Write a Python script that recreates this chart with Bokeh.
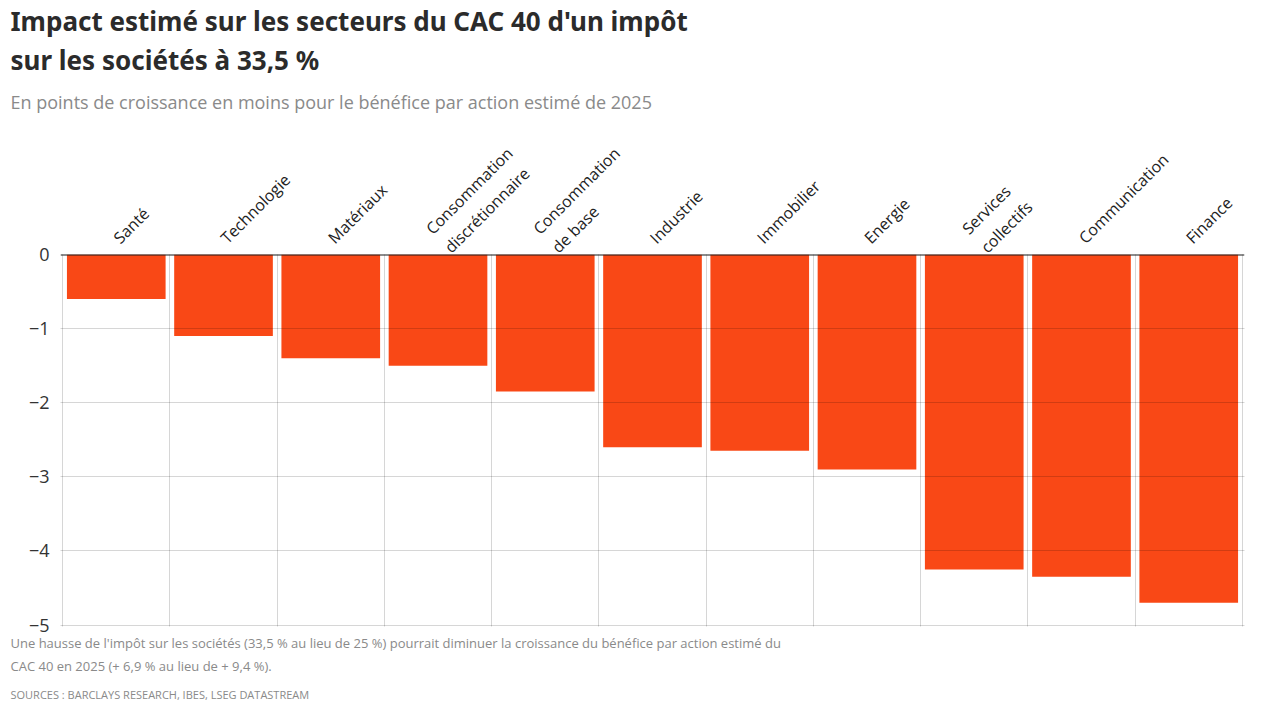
from math import pi

from bokeh.embed import file_html
from bokeh.models import ColumnDataSource, FixedTicker, Range1d, Span, Title
from bokeh.plotting import figure
from bokeh.resources import INLINE

sectors = ["Santé", "Technologie", "Matériaux", "Consommation\ndiscrétionnaire",
           "Consommation\nde base", "Industrie", "Immobilier", "Energie",
           "Services\ncollectifs", "Communication", "Finance"]
impact = [-0.6, -1.1, -1.4, -1.5, -1.85, -2.6, -2.65, -2.9, -4.25, -4.35, -4.7]

y_ticks = [0, -1, -2, -3, -4, -5]
y_labels = ["0", "−1", "−2", "−3", "−4", "−5"]

title_1 = "Impact estimé sur les secteurs du CAC 40 d'un impôt"
title_2 = "sur les sociétés à 33,5 %"
subtitle = "En points de croissance en moins pour le bénéfice par action estimé de 2025"
note_1 = ("Une hausse de l'impôt sur les sociétés (33,5 % au lieu de 25 %) pourrait diminuer "
          "la croissance du bénéfice par action estimé du")
note_2 = "CAC 40 en 2025 (+ 6,9 % au lieu de + 9,4 %)."
source_txt = "SOURCES : BARCLAYS RESEARCH, IBES, LSEG DATASTREAM"

BAR = "#F94816"
n = len(sectors)
xs = list(range(n))
src = ColumnDataSource(data=dict(x=xs, impact=impact))

p = figure(width=1264, height=704, x_range=Range1d(-0.52, n - 0.48),
           y_range=Range1d(-5.02, 0),
           x_axis_location="above", output_backend="svg", toolbar_location=None,
           min_border_left=60, min_border_right=20, min_border_bottom=8, min_border_top=10,
           outline_line_color=None, background_fill_color="white")

p.vbar(x="x", top=0, bottom="impact", width=0.92, source=src,
       fill_color=BAR, line_color=None)

# axes
p.xaxis.ticker = FixedTicker(ticks=xs)
p.xaxis.major_label_overrides = {i: s for i, s in zip(xs, sectors)}
p.xaxis.major_label_orientation = pi / 4
p.xaxis.major_label_text_font = "Open Sans"
p.xaxis.major_label_text_font_size = "16px"
p.xaxis.major_label_text_color = "#222222"
p.xaxis.major_label_standoff = 8
p.xaxis.axis_line_color = None
p.xaxis.major_tick_line_color = None
p.xaxis.minor_tick_line_color = None

p.yaxis.ticker = FixedTicker(ticks=y_ticks)
p.yaxis.major_label_overrides = {t: s for t, s in zip(y_ticks, y_labels)}
p.yaxis.major_label_text_font = "Open Sans"
p.yaxis.major_label_text_font_size = "18px"
p.yaxis.major_label_text_color = "#333333"
p.yaxis.axis_line_color = None
p.yaxis.major_tick_line_color = None
p.yaxis.minor_tick_line_color = None

# grid drawn over the bars, vertical lines between columns
p.xgrid.ticker = FixedTicker(ticks=[i - 0.5 for i in range(n + 1)])
p.ygrid.ticker = FixedTicker(ticks=y_ticks)
for g in (p.xgrid, p.ygrid):
    g.level = "overlay"
    g.grid_line_color = "black"
    g.grid_line_alpha = 0.16
    g.grid_line_width = 1

p.add_layout(Span(location=0, dimension="width", line_color="#1a1a1a",
                  line_width=2, level="overlay"))

# titles (stacked outwards from the axis)
p.add_layout(Title(text=subtitle, align="left", offset=-50, standoff=18,
                   text_font="Open Sans", text_font_size="18px",
                   text_font_style="normal", text_color="#8a8a8a"), "above")
p.add_layout(Title(text=title_2, align="left", offset=-50, standoff=2,
                   text_font="Noto Sans", text_font_size="26px",
                   text_font_style="bold", text_color="#2b2b2b"), "above")
p.add_layout(Title(text=title_1, align="left", offset=-50, standoff=0,
                   text_font="Noto Sans", text_font_size="26px",
                   text_font_style="bold", text_color="#2b2b2b"), "above")

# footnote and source under the chart
foot = dict(align="left", offset=-50, text_font="Open Sans",
            text_font_style="normal", text_color="#8a8a8a")
p.add_layout(Title(text=note_1 + "\n" + note_2, standoff=12, text_font_size="13px",
                   text_line_height=1.3, **foot), "below")
p.add_layout(Title(text=source_txt, standoff=6, text_font_size="11px", **foot), "below")

open("out.html", "w").write(file_html(p, INLINE))
